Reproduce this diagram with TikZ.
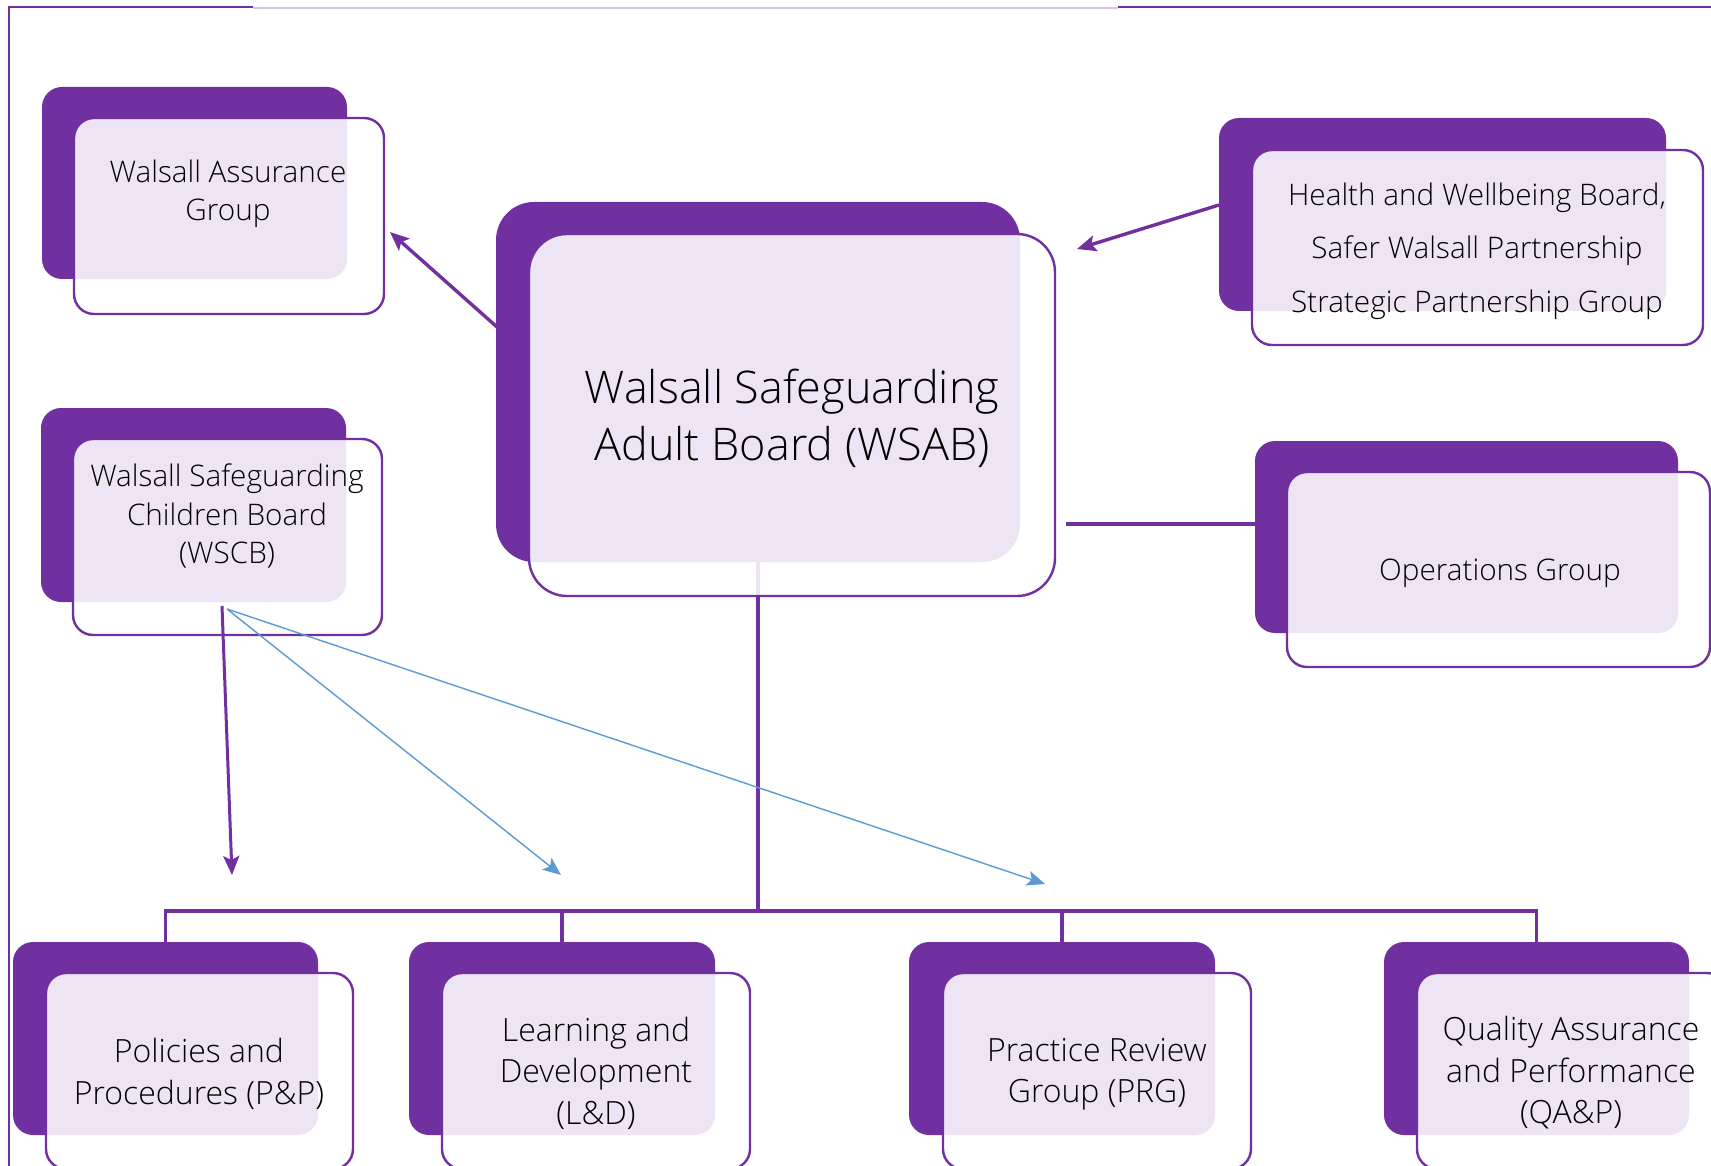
\documentclass[tikz,border=0pt]{standalone}
\usepackage{fontspec}
\IfFontExistsTF{Open Sans Light}{\setmainfont{Open Sans Light}}{\setmainfont{Open Sans}}
\usetikzlibrary{arrows.meta}
\definecolor{wpurple}{HTML}{7030A0}
\definecolor{wblue}{HTML}{5B9BD5}
\definecolor{wlight}{HTML}{D8C6E6}
\tikzset{
  backbox/.style={fill=wpurple, draw=none, rounded corners=20pt, inner sep=0pt, outer sep=0pt, anchor=north west},
  frontbox/.style={fill=white, fill opacity=0.88, draw=wpurple, line width=2.4pt, rounded corners=20pt, inner sep=0pt, outer sep=0pt, anchor=north west},
  bigcorner/.style={rounded corners=38pt},
  lbl/.style={align=center, text=black, inner sep=0pt, font=\fontsize{29.7}{38}\selectfont},
  lblbottom/.style={lbl, font=\fontsize{32}{41.5}\selectfont},
  conn/.style={draw=wpurple, line width=3.2pt},
  parrow/.style={draw=wpurple, line width=3.4pt, -{Stealth[length=19pt,width=16pt,inset=4pt]}},
  barrow/.style={draw=wblue, line width=1.4pt, -{Stealth[length=18pt,width=15pt,inset=4pt]}},
  frame/.style={draw=wpurple, line width=2pt},
}
\begin{document}
\begin{tikzpicture}[x=1pt, y=-1pt]
\clip (0,0) rectangle (1711,1166);
\fill[white] (0,0) rectangle (1711,1166);

% frame lines
\draw[frame] (9,7.5) -- (253,7.5);
\draw[draw=wlight, line width=2pt] (253,8.3) -- (1118,8.3);
\draw[frame] (1118,7.5) -- (1711,7.5);
\draw[frame] (9,6.5) -- (9,1166);

% back boxes
\node[backbox, minimum width=305pt, minimum height=192pt] (asgB) at (42,87) {};
\node[backbox, minimum width=305pt, minimum height=194pt] (wscbB) at (41,408) {};
\node[backbox, bigcorner, minimum width=524pt, minimum height=360pt] (wsabB) at (496,202) {};
\node[backbox, minimum width=447pt, minimum height=193pt] (hwbB) at (1219,118) {};
\node[backbox, minimum width=423pt, minimum height=192pt] (opsB) at (1255,441) {};
\node[backbox, minimum width=305pt, minimum height=193pt] (ppB) at (13,942) {};
\node[backbox, minimum width=306pt, minimum height=193pt] (ldB) at (409,942) {};
\node[backbox, minimum width=306pt, minimum height=193pt] (prgB) at (909,942) {};
\node[backbox, minimum width=305pt, minimum height=193pt] (qaB) at (1384,942) {};

% tree connectors (behind the front boxes)
\coordinate (hub) at (758,911);
\draw[conn] (wsabB.south) -- (hub);
\draw[conn] (ppB.north) |- (hub) -| (qaB.north);
\draw[conn] (ldB.north) -- (ldB.north |- hub);
\draw[conn] (prgB.north) -- (prgB.north |- hub);

% front boxes
\node[frontbox, minimum width=310pt, minimum height=196pt] (asgF) at (74,118) {};
\node[frontbox, minimum width=309pt, minimum height=196pt] (wscbF) at (73,439) {};
\node[frontbox, bigcorner, minimum width=526pt, minimum height=362pt] (wsabF) at (529,234) {};
\node[frontbox, minimum width=451pt, minimum height=195pt] (hwbF) at (1252,150) {};
\node[frontbox, minimum width=423pt, minimum height=195pt] (opsF) at (1287,472) {};
\node[frontbox, minimum width=307pt, minimum height=196pt] (ppF) at (46,973) {};
\node[frontbox, minimum width=308pt, minimum height=196pt] (ldF) at (442,973) {};
\node[frontbox, minimum width=308pt, minimum height=196pt] (prgF) at (943,973) {};
\node[frontbox, minimum width=310pt, minimum height=196pt] (qaF) at (1417,973) {};

% labels
\node[lbl] (asgT) at (228,193.5) {Walsall Assurance\\Group};
\node[lbl, font=\fontsize{29.7}{38.5}\selectfont] (wscbT) at (227,516) {Walsall Safeguarding\\Children Board\\(WSCB)};
\node[lbl, font=\fontsize{45}{57}\selectfont] (wsabT) at (792,418) {Walsall Safeguarding\\Adult Board (WSAB)};
\node[lbl, font=\fontsize{29.7}{53.5}\selectfont] (hwbT) at (1477,251) {Health and Wellbeing Board,\\Safer Walsall Partnership\\Strategic Partnership Group};
\node[lbl] (opsT) at (1500,573) {Operations Group};
\node[lblbottom] (ppT) at (199,1074) {Policies and\\Procedures (P\&P)};
\node[lblbottom] (ldT) at (596,1073) {Learning and\\Development\\(L\&D)};
\node[lblbottom] (prgT) at (1097,1074) {Practice Review\\Group (PRG)};
\node[lblbottom] (qaT) at (1571,1073) {Quality Assurance\\and Performance\\(QA\&P)};

% other connectors
\coordinate (wsabR) at (1066,524);
\draw[conn] (wsabR) -- (wsabR -| opsB.west);

\coordinate (wsabOut) at (497,327);
\coordinate (asgIn) at (390,232);
\draw[parrow] (wsabOut) -- (asgIn);

\coordinate (hwbOut) at (1219,205);
\coordinate (wsabIn) at (1077,249);
\draw[parrow] (hwbOut) -- (wsabIn);

\coordinate (wscbOut) at (222,606);
\coordinate (ppIn) at (232,875);
\draw[parrow, line width=3pt] (wscbOut) -- (ppIn);

\coordinate (wscbOutB) at (227,609);
\coordinate (ldIn) at (561,875);
\coordinate (prgIn) at (1045,884);
\draw[barrow] (wscbOutB) -- (ldIn);
\draw[barrow] (wscbOutB) -- (prgIn);
\end{tikzpicture}
\end{document}
